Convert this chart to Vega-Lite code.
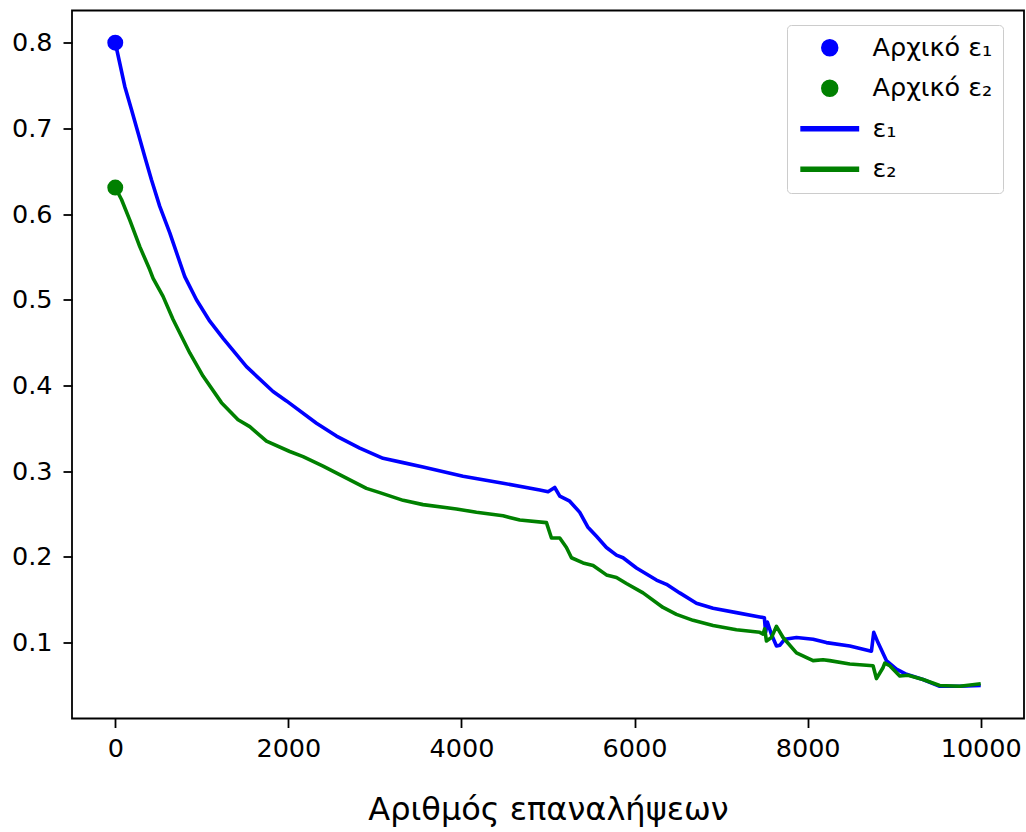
{
"$schema": "https://vega.github.io/schema/vega-lite/v6.json",
"autosize": {"type": "none"},
"width": 952, "height": 708,
"padding": {"left": 72, "top": 10.5, "right": 2, "bottom": 113},
"background": "white",
"config": {
  "view": {"stroke": "black", "strokeWidth": 1.8},
  "axis": {"domain": false, "grid": false, "tickColor": "black", "tickWidth": 1.8, "tickSize": 9,
    "labelFont": "DejaVu Sans", "labelFontSize": 25.5, "labelColor": "black", "labelPadding": 9,
    "titleFont": "DejaVu Sans", "titleFontSize": 32, "titleFontWeight": "normal", "titleColor": "black"}
},
"data": {"values": [
{"k":"Αρχικό ε₁","t":"p","x":0,"y":0.8},
{"k":"Αρχικό ε₂","t":"p","x":0,"y":0.631},
{"k":"ε₁","t":"l","x":0,"y":0.8},{"k":"ε₁","t":"l","x":52,"y":0.776},{"k":"ε₁","t":"l","x":110,"y":0.749},{"k":"ε₁","t":"l","x":187,"y":0.722},{"k":"ε₁","t":"l","x":263,"y":0.695},{"k":"ε₁","t":"l","x":341,"y":0.667},{"k":"ε₁","t":"l","x":418,"y":0.640},{"k":"ε₁","t":"l","x":514,"y":0.609},{"k":"ε₁","t":"l","x":630,"y":0.578},{"k":"ε₁","t":"l","x":803,"y":0.527},{"k":"ε₁","t":"l","x":938,"y":0.500},{"k":"ε₁","t":"l","x":1092,"y":0.475},{"k":"ε₁","t":"l","x":1246,"y":0.455},{"k":"ε₁","t":"l","x":1516,"y":0.422},{"k":"ε₁","t":"l","x":1823,"y":0.393},{"k":"ε₁","t":"l","x":1978,"y":0.382},{"k":"ε₁","t":"l","x":2325,"y":0.356},{"k":"ε₁","t":"l","x":2556,"y":0.341},{"k":"ε₁","t":"l","x":2825,"y":0.327},{"k":"ε₁","t":"l","x":3094,"y":0.315},{"k":"ε₁","t":"l","x":3325,"y":0.310},{"k":"ε₁","t":"l","x":3556,"y":0.305},{"k":"ε₁","t":"l","x":4018,"y":0.294},{"k":"ε₁","t":"l","x":4481,"y":0.286},{"k":"ε₁","t":"l","x":4905,"y":0.278},{"k":"ε₁","t":"l","x":5001,"y":0.276},{"k":"ε₁","t":"l","x":5078,"y":0.281},{"k":"ε₁","t":"l","x":5136,"y":0.271},{"k":"ε₁","t":"l","x":5251,"y":0.265},{"k":"ε₁","t":"l","x":5367,"y":0.252},{"k":"ε₁","t":"l","x":5459,"y":0.235},{"k":"ε₁","t":"l","x":5560,"y":0.224},{"k":"ε₁","t":"l","x":5675,"y":0.211},{"k":"ε₁","t":"l","x":5791,"y":0.202},{"k":"ε₁","t":"l","x":5867,"y":0.199},{"k":"ε₁","t":"l","x":6022,"y":0.187},{"k":"ε₁","t":"l","x":6253,"y":0.173},{"k":"ε₁","t":"l","x":6369,"y":0.168},{"k":"ε₁","t":"l","x":6522,"y":0.158},{"k":"ε₁","t":"l","x":6715,"y":0.146},{"k":"ε₁","t":"l","x":6907,"y":0.140},{"k":"ε₁","t":"l","x":7177,"y":0.135},{"k":"ε₁","t":"l","x":7447,"y":0.130},{"k":"ε₁","t":"l","x":7500,"y":0.129},{"k":"ε₁","t":"l","x":7515,"y":0.112},{"k":"ε₁","t":"l","x":7535,"y":0.124},{"k":"ε₁","t":"l","x":7580,"y":0.110},{"k":"ε₁","t":"l","x":7640,"y":0.096},{"k":"ε₁","t":"l","x":7680,"y":0.097},{"k":"ε₁","t":"l","x":7736,"y":0.104},{"k":"ε₁","t":"l","x":7871,"y":0.106},{"k":"ε₁","t":"l","x":8063,"y":0.104},{"k":"ε₁","t":"l","x":8217,"y":0.100},{"k":"ε₁","t":"l","x":8487,"y":0.096},{"k":"ε₁","t":"l","x":8737,"y":0.090},{"k":"ε₁","t":"l","x":8764,"y":0.112},{"k":"ε₁","t":"l","x":8813,"y":0.100},{"k":"ε₁","t":"l","x":8910,"y":0.079},{"k":"ε₁","t":"l","x":9026,"y":0.069},{"k":"ε₁","t":"l","x":9142,"y":0.063},{"k":"ε₁","t":"l","x":9333,"y":0.057},{"k":"ε₁","t":"l","x":9526,"y":0.049},{"k":"ε₁","t":"l","x":9757,"y":0.049},{"k":"ε₁","t":"l","x":10000,"y":0.050},
{"k":"ε₂","t":"l","x":0,"y":0.631},{"k":"ε₂","t":"l","x":72,"y":0.617},{"k":"ε₂","t":"l","x":168,"y":0.593},{"k":"ε₂","t":"l","x":283,"y":0.562},{"k":"ε₂","t":"l","x":399,"y":0.535},{"k":"ε₂","t":"l","x":437,"y":0.525},{"k":"ε₂","t":"l","x":552,"y":0.504},{"k":"ε₂","t":"l","x":668,"y":0.477},{"k":"ε₂","t":"l","x":861,"y":0.438},{"k":"ε₂","t":"l","x":1014,"y":0.411},{"k":"ε₂","t":"l","x":1227,"y":0.380},{"k":"ε₂","t":"l","x":1419,"y":0.360},{"k":"ε₂","t":"l","x":1554,"y":0.352},{"k":"ε₂","t":"l","x":1747,"y":0.335},{"k":"ε₂","t":"l","x":2016,"y":0.323},{"k":"ε₂","t":"l","x":2170,"y":0.317},{"k":"ε₂","t":"l","x":2401,"y":0.306},{"k":"ε₂","t":"l","x":2671,"y":0.292},{"k":"ε₂","t":"l","x":2902,"y":0.280},{"k":"ε₂","t":"l","x":3056,"y":0.275},{"k":"ε₂","t":"l","x":3326,"y":0.266},{"k":"ε₂","t":"l","x":3556,"y":0.261},{"k":"ε₂","t":"l","x":3942,"y":0.256},{"k":"ε₂","t":"l","x":4173,"y":0.252},{"k":"ε₂","t":"l","x":4481,"y":0.248},{"k":"ε₂","t":"l","x":4674,"y":0.243},{"k":"ε₂","t":"l","x":4982,"y":0.240},{"k":"ε₂","t":"l","x":5040,"y":0.222},{"k":"ε₂","t":"l","x":5136,"y":0.222},{"k":"ε₂","t":"l","x":5213,"y":0.211},{"k":"ε₂","t":"l","x":5271,"y":0.199},{"k":"ε₂","t":"l","x":5405,"y":0.193},{"k":"ε₂","t":"l","x":5521,"y":0.190},{"k":"ε₂","t":"l","x":5675,"y":0.179},{"k":"ε₂","t":"l","x":5791,"y":0.176},{"k":"ε₂","t":"l","x":5906,"y":0.169},{"k":"ε₂","t":"l","x":6098,"y":0.158},{"k":"ε₂","t":"l","x":6329,"y":0.141},{"k":"ε₂","t":"l","x":6484,"y":0.133},{"k":"ε₂","t":"l","x":6676,"y":0.126},{"k":"ε₂","t":"l","x":6907,"y":0.120},{"k":"ε₂","t":"l","x":7177,"y":0.115},{"k":"ε₂","t":"l","x":7447,"y":0.112},{"k":"ε₂","t":"l","x":7485,"y":0.110},{"k":"ε₂","t":"l","x":7504,"y":0.116},{"k":"ε₂","t":"l","x":7524,"y":0.102},{"k":"ε₂","t":"l","x":7582,"y":0.106},{"k":"ε₂","t":"l","x":7640,"y":0.119},{"k":"ε₂","t":"l","x":7716,"y":0.106},{"k":"ε₂","t":"l","x":7871,"y":0.088},{"k":"ε₂","t":"l","x":8063,"y":0.079},{"k":"ε₂","t":"l","x":8178,"y":0.080},{"k":"ε₂","t":"l","x":8255,"y":0.079},{"k":"ε₂","t":"l","x":8487,"y":0.075},{"k":"ε₂","t":"l","x":8756,"y":0.073},{"k":"ε₂","t":"l","x":8795,"y":0.058},{"k":"ε₂","t":"l","x":8872,"y":0.071},{"k":"ε₂","t":"l","x":8891,"y":0.076},{"k":"ε₂","t":"l","x":8949,"y":0.073},{"k":"ε₂","t":"l","x":9064,"y":0.061},{"k":"ε₂","t":"l","x":9160,"y":0.062},{"k":"ε₂","t":"l","x":9333,"y":0.057},{"k":"ε₂","t":"l","x":9526,"y":0.050},{"k":"ε₂","t":"l","x":9757,"y":0.049},{"k":"ε₂","t":"l","x":10000,"y":0.052}
]},
"layer": [
  {"transform": [{"filter": "datum.t === 'p'"}], "mark": {"type": "point", "filled": true, "size": 254, "opacity": 1},
   "encoding": {
    "x": {"field": "x", "type": "quantitative", "scale": {"domain": [-500, 10500], "nice": false, "zero": false},
      "axis": {"values": [0,2000,4000,6000,8000,10000], "format": "d", "title": "Αριθμός επαναλήψεων", "titlePadding": 32}},
    "y": {"field": "y", "type": "quantitative", "scale": {"domain": [0.01145, 0.83755], "nice": false, "zero": false},
      "axis": {"values": [0.1,0.2,0.3,0.4,0.5,0.6,0.7,0.8], "format": ".1f", "title": null, "labelPadding": 11}},
    "shape": {"field": "k", "type": "nominal",
      "scale": {"domain": ["Αρχικό ε₁","Αρχικό ε₂","ε₁","ε₂"], "range": ["circle","circle","M-3.6,-0.24H3.6V0.24H-3.6Z","M-3.6,-0.24H3.6V0.24H-3.6Z"]},
      "legend": {"title": null, "orient": "none", "legendX": 715, "legendY": 14.5, "padding": 10,
        "strokeColor": "#cccccc", "fillColor": "rgba(255,255,255,0.8)", "cornerRadius": 4,
        "labelFont": "DejaVu Sans", "labelFontSize": 25.5, "labelColor": "black", "labelLimit": 400,
        "symbolSize": 254, "rowPadding": 13.5, "symbolOffset": 20, "labelOffset": 30}},
    "color": {"field": "k", "type": "nominal",
      "scale": {"domain": ["Αρχικό ε₁","Αρχικό ε₂","ε₁","ε₂"], "range": ["#0000ff","#008000","#0000ff","#008000"]},
      "legend": {"title": null, "orient": "none", "legendX": 715, "legendY": 14.5, "padding": 10,
        "strokeColor": "#cccccc", "fillColor": "rgba(255,255,255,0.8)", "cornerRadius": 4,
        "labelFont": "DejaVu Sans", "labelFontSize": 25.5, "labelColor": "black", "labelLimit": 400,
        "symbolSize": 254, "rowPadding": 13.5, "symbolOffset": 20, "labelOffset": 30}}
   }},
  {"transform": [{"filter": "datum.t === 'l'"}], "mark": {"type": "line", "strokeWidth": 3.6, "strokeJoin": "round"},
   "encoding": {
    "x": {"field": "x", "type": "quantitative"},
    "y": {"field": "y", "type": "quantitative"},
    "color": {"field": "k", "type": "nominal"}
   }}
]
}
